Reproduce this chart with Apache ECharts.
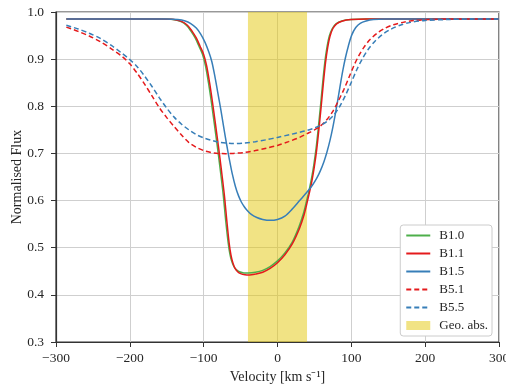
<!DOCTYPE html>
<html>
<head>
<meta charset="utf-8">
<script src="https://cdn.jsdelivr.net/npm/echarts@6/dist/echarts.min.js"></script>
<style>html,body{margin:0;padding:0;background:#fff}#c{width:506px;height:385px}</style>
</head>
<body>
<div id="c"></div>
<script>
// ---- Data ----
const xTicks = [-300, -200, -100, 0, 100, 200, 300];
const yTicks = [0.3, 0.4, 0.5, 0.6, 0.7, 0.8, 0.9, 1.0];
const geoBand = [-40, 40];

const b10_v = [-286, -160, -141.5, -131.5, -123.5, -117.5, -111.5, -106.5, -101.5, -97.5, -93.5, -89.5, -85.5, -81.5, -77.5, -73.5, -70, -67, -64.5, -62, -59, -55.5, -51.5, -45.5, -39.5, -30, -20, -10, 0, 10, 20, 29.2, 35.2, 39.2, 43.2, 46.2, 49.2, 52.2, 55.2, 58.2, 61.2, 64.2, 67.2, 70.2, 74.2, 79.2, 87.2, 99.2, 120, 300];
const b10_f = [0.985, 0.985, 0.984, 0.980, 0.972, 0.960, 0.945, 0.928, 0.910, 0.886, 0.85, 0.808, 0.762, 0.715, 0.665, 0.612, 0.555, 0.513, 0.487, 0.471, 0.460, 0.453, 0.449, 0.4465, 0.4465, 0.448, 0.452, 0.460, 0.472, 0.489, 0.512, 0.545, 0.573, 0.598, 0.625, 0.648, 0.676, 0.71, 0.753, 0.80, 0.85, 0.895, 0.927, 0.949, 0.965, 0.975, 0.981, 0.984, 0.985, 0.985];

const b11_v = [-286, -160, -140, -130, -122, -116, -110, -105, -100, -96, -92, -88, -84, -80, -76, -72, -68.5, -65.5, -63, -60.5, -57.5, -54, -50, -44, -38, -30, -20, -10, 0, 10, 20, 30, 36, 40, 44, 47, 50, 53, 56, 59, 62, 65, 68, 71, 75, 80, 88, 100, 120, 300];
const b11_f = [0.985, 0.985, 0.984, 0.980, 0.972, 0.960, 0.945, 0.928, 0.910, 0.886, 0.85, 0.808, 0.762, 0.715, 0.665, 0.612, 0.555, 0.510, 0.484, 0.468, 0.456, 0.449, 0.445, 0.4425, 0.442, 0.444, 0.448, 0.456, 0.468, 0.485, 0.508, 0.542, 0.570, 0.595, 0.622, 0.645, 0.673, 0.707, 0.75, 0.797, 0.847, 0.892, 0.925, 0.948, 0.965, 0.975, 0.981, 0.984, 0.985, 0.985];

const b15_v = [-286, -150, -135, -125, -118, -110, -104, -98, -93, -89, -85, -81, -77, -73, -69, -65, -61, -57, -53, -49, -45, -41, -35, -28, -20, -10, 0, 10, 20, 30, 40, 47, 53, 58, 63, 67, 71, 75, 78, 81.5, 85, 88.5, 92, 96, 100.5, 106, 112, 120, 130, 145, 300];
const b15_f = [0.985, 0.985, 0.984, 0.981, 0.976, 0.966, 0.953, 0.935, 0.915, 0.895, 0.865, 0.83, 0.795, 0.757, 0.72, 0.686, 0.655, 0.630, 0.611, 0.597, 0.587, 0.579, 0.570, 0.564, 0.560, 0.558, 0.560, 0.567, 0.582, 0.600, 0.618, 0.632, 0.647, 0.663, 0.683, 0.703, 0.727, 0.756, 0.781, 0.812, 0.845, 0.876, 0.903, 0.928, 0.951, 0.967, 0.976, 0.981, 0.984, 0.985, 0.985];

const b51_v = [-286, -270, -255, -240, -225, -210, -200, -190, -180, -170, -160, -150, -140, -130, -120, -110, -100, -90, -80, -70, -60, -45, -30, -15, 0, 15, 30, 40, 50, 58, 66, 74, 82, 90, 97, 104, 110, 117, 125, 135, 145, 157, 170, 185, 205, 235, 300];
const b51_f = [0.968, 0.959, 0.949, 0.937, 0.922, 0.905, 0.890, 0.870, 0.847, 0.822, 0.797, 0.776, 0.757, 0.739, 0.723, 0.713, 0.706, 0.702, 0.700, 0.6995, 0.700, 0.702, 0.706, 0.711, 0.717, 0.725, 0.734, 0.742, 0.750, 0.758, 0.770, 0.787, 0.81, 0.836, 0.862, 0.888, 0.907, 0.925, 0.941, 0.955, 0.965, 0.973, 0.978, 0.982, 0.984, 0.985, 0.985];

const b55_v = [-286, -270, -255, -240, -225, -212, -200, -190, -180, -170, -160, -150, -140, -130, -120, -110, -100, -90, -80, -70, -60, -45, -30, -15, 0, 17, 30, 40, 50, 60, 68, 76, 84, 92, 100, 107.5, 115, 123, 132, 142, 153, 166, 180, 200, 230, 260, 300];
const b55_f = [0.972, 0.964, 0.955, 0.944, 0.929, 0.914, 0.899, 0.884, 0.864, 0.842, 0.818, 0.796, 0.777, 0.762, 0.750, 0.740, 0.733, 0.728, 0.724, 0.722, 0.721, 0.722, 0.725, 0.729, 0.734, 0.740, 0.745, 0.749, 0.754, 0.761, 0.769, 0.781, 0.799, 0.823, 0.851, 0.878, 0.901, 0.921, 0.938, 0.952, 0.963, 0.972, 0.978, 0.982, 0.984, 0.985, 0.985];

// ---- Build chart ----
const zip = (a, b) => a.map((v, i) => [v, b[i]]);
const FONT = 'Liberation Serif';
const TXT = '#262626';
const bandColor = 'rgba(228,200,10,0.5)';

function lineSeries(name, v, f, color, dashed, z) {
  return {
    name, type: 'line', data: zip(v, f), showSymbol: false, symbol: 'none',
    smooth: 0.3, z,
    itemStyle: { color },
    lineStyle: { color, width: 1.5, type: dashed ? [5, 3] : 'solid' },
    animation: false
  };
}

const chart = echarts.init(document.getElementById('c'), null, { renderer: 'canvas' });
chart.setOption({
  animation: false,
  backgroundColor: '#fff',
  grid: { left: 56, right: 7, top: 12, bottom: 43, show: true, borderColor: '#333', borderWidth: 1.2,
    backgroundColor: 'transparent', containLabel: false, outerBoundsMode: 'none' },
  xAxis: {
    type: 'value', min: xTicks[0], max: xTicks[xTicks.length - 1], interval: 100,
    name: 'Velocity [km s\u207B\u00B9]', nameLocation: 'middle', nameGap: 28, nameMoveOverlap: false,
    nameTextStyle: { fontFamily: FONT, fontSize: 14, color: TXT },
    axisLine: { show: true, onZero: false, lineStyle: { color: '#333', width: 1.2 } },
    axisTick: { show: true, length: 5, lineStyle: { color: '#333' } },
    axisLabel: { margin: 9, fontFamily: FONT, fontSize: 13.5, color: TXT,
      formatter: v => v < 0 ? '\u2212' + Math.abs(v) : String(v) },
    splitLine: { show: true, lineStyle: { color: '#cfcfcf', width: 1 } }
  },
  yAxis: {
    type: 'value', min: yTicks[0], max: yTicks[yTicks.length - 1], interval: 0.1,
    name: 'Normalised Flux', nameLocation: 'middle', nameGap: 32, nameMoveOverlap: false,
    nameTextStyle: { fontFamily: FONT, fontSize: 14, color: TXT },
    axisLine: { show: true, onZero: false, lineStyle: { color: '#333', width: 1.2 } },
    axisTick: { show: true, length: 5, lineStyle: { color: '#333' } },
    axisLabel: { margin: 12, fontFamily: FONT, fontSize: 13.5, color: TXT,
      formatter: v => (Math.round(v * 10) / 10).toFixed(1) },
    splitLine: { show: true, lineStyle: { color: '#cfcfcf', width: 1 } }
  },
  legend: {
    orient: 'vertical', right: 14, bottom: 49,
    backgroundColor: '#fff', borderColor: '#cccccc', borderWidth: 1, borderRadius: 3,
    padding: [4, 4, 4, 5], itemGap: 5, itemWidth: 24, itemHeight: 9,
    itemStyle: { opacity: 0 },
    textStyle: { fontFamily: FONT, fontSize: 13, color: TXT, padding: [0, 0, 0, 4] },
    data: ['B1.0', 'B1.1', 'B1.5', 'B5.1', 'B5.5',
      { name: 'Geo. abs.', icon: 'rect', itemStyle: { color: bandColor, opacity: 1 } }]
  },
  series: [
    {
      name: 'Geo. abs.', type: 'line', data: [], z: 1,
      itemStyle: { color: bandColor }, lineStyle: { color: bandColor },
      markArea: { silent: true, itemStyle: { color: bandColor },
        data: [[{ xAxis: geoBand[0] }, { xAxis: geoBand[1] }]] }
    },
    lineSeries('B1.0', b10_v, b10_f, '#4daf4a', false, 3),
    lineSeries('B1.1', b11_v, b11_f, '#e41a1c', false, 4),
    lineSeries('B1.5', b15_v, b15_f, '#377eb8', false, 5),
    lineSeries('B5.1', b51_v, b51_f, '#e41a1c', true, 6),
    lineSeries('B5.5', b55_v, b55_f, '#377eb8', true, 7)
  ]
});
</script>
</body>
</html>
